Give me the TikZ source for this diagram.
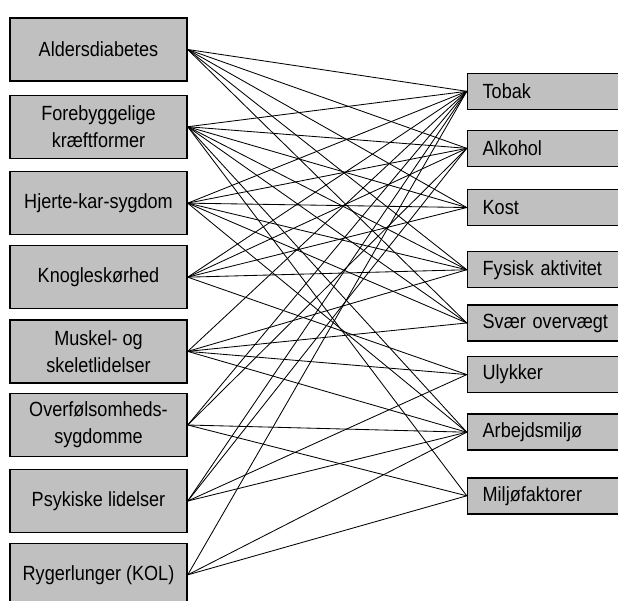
\documentclass[tikz,border=0pt]{standalone}
\usepackage{fontspec}
\setmainfont[FakeStretch=0.88]{Liberation Sans}
\usetikzlibrary{positioning}
\definecolor{boxgray}{RGB}{192,192,192}

\begin{document}
\begin{tikzpicture}[
        x = 0.025cm, y = -0.025cm,
        on grid,
        every node/.style = {font = \fontsize{14.6}{19}\selectfont},
        disease/.style = {draw = black, line width = 1pt, fill = boxgray,
            minimum width = 4.425cm, minimum height = 1.575cm, align = center, inner sep = 0pt},
        factor/.style = {draw = black, line width = 1pt, fill = boxgray,
            minimum height = 0.9cm, text width = 3.5cm, inner xsep = 0.38cm, inner ysep = 0pt, align = left},
        link/.style = {line width = 0.6pt}
    ]
    \useasboundingbox (0,0) rectangle (618,600);

    % sygdomme
    \node[disease] (ald)     at (98.5,49.5)            {Aldersdiabetes};
    \node[disease] (kraeft)  [below = 1.93cm of ald]    {Forebyggelige\\kræftformer};
    \node[disease] (hjerte)  [below = 1.91cm of kraeft] {Hjerte-kar-sygdom};
    \node[disease] (knogle)  [below = 1.85cm of hjerte] {Knogleskørhed};
    \node[disease] (muskel)  [below = 1.855cm of knogle] {Muskel- og\\skeletlidelser};
    \node[disease] (allergi) [below = 1.84cm of muskel] {Overfølsomheds-\\sygdomme};
    \node[disease] (psyk)    [below = 1.90cm of allergi] {Psykiske lidelser};
    \node[disease] (kol)     [below = 1.845cm of psyk]  {Rygerlunger (KOL)};

    % risikofaktorer
    \node[factor] (tobak)     at (552.7,91.3)               {Tobak};
    \node[factor] (alkohol)   [below = 1.425cm of tobak]     {Alkohol};
    \node[factor] (kost)      [below = 1.48cm of alkohol]    {Kost};
    \node[factor] (fysisk)    [below = 1.555cm of kost]      {Fysisk aktivitet};
    \node[factor] (overvaegt) [below = 1.33cm of fysisk]     {Svær overvægt};
    \node[factor] (ulykker)   [below = 1.29cm of overvaegt]  {Ulykker};
    \node[factor] (arbejde)   [below = 1.44cm of ulykker]    {Arbejdsmiljø};
    \node[factor] (miljoe)    [below = 1.59cm of arbejde]    {Miljøfaktorer};

    \path[link]
        (ald.east) edge (tobak.west)
        (ald.east) edge (alkohol.west)
        (ald.east) edge (kost.west)
        (ald.east) edge (fysisk.west)
        (ald.east) edge (overvaegt.west);

    \path[link]
        (kraeft.east) edge (tobak.west)
        (kraeft.east) edge (alkohol.west)
        (kraeft.east) edge (kost.west)
        (kraeft.east) edge (fysisk.west)
        (kraeft.east) edge (overvaegt.west)
        (kraeft.east) edge (arbejde.west)
        (kraeft.east) edge (miljoe.west);

    \path[link]
        (hjerte.east) edge (tobak.west)
        (hjerte.east) edge (alkohol.west)
        (hjerte.east) edge (kost.west)
        (hjerte.east) edge (fysisk.west)
        (hjerte.east) edge (overvaegt.west)
        (hjerte.east) edge (arbejde.west);

    \path[link]
        (knogle.east) edge (tobak.west)
        (knogle.east) edge (alkohol.west)
        (knogle.east) edge (kost.west)
        (knogle.east) edge (fysisk.west)
        (knogle.east) edge (ulykker.west);

    \path[link]
        (muskel.east) edge (tobak.west)
        (muskel.east) edge (fysisk.west)
        (muskel.east) edge (overvaegt.west)
        (muskel.east) edge (ulykker.west)
        (muskel.east) edge (arbejde.west);

    \path[link]
        (allergi.east) edge (tobak.west)
        (allergi.east) edge (alkohol.west)
        (allergi.east) edge (arbejde.west)
        (allergi.east) edge (miljoe.west);

    \path[link]
        (psyk.east) edge (tobak.west)
        (psyk.east) edge (alkohol.west)
        (psyk.east) edge (ulykker.west)
        (psyk.east) edge (arbejde.west);

    \path[link]
        (kol.east) edge (tobak.west)
        (kol.east) edge (arbejde.west)
        (kol.east) edge (miljoe.west);

\end{tikzpicture}
\end{document}
